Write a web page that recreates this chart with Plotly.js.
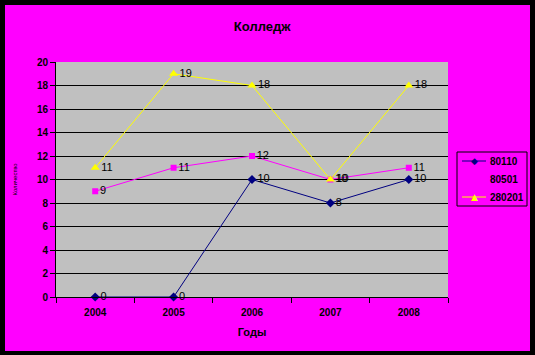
<!DOCTYPE html>
<html>
<head>
<meta charset="utf-8">
<script src="https://cdn.plot.ly/plotly-3.0.1.min.js"></script>
<style>
  html, body { margin:0; padding:0; background:#000; }
  #wrap { position:relative; width:535px; height:355px; }
  #chart { position:absolute; left:0; top:0; width:535px; height:355px; }
  #frame { position:absolute; left:0; top:0; width:535px; height:355px; box-sizing:border-box;
           border-style:solid; border-color:#000; border-width:5px 5px 4px 5px; pointer-events:none; }
</style>
</head>
<body>
<div id="wrap"><div id="chart"></div><div id="frame"></div></div>
<script>
const years = ["2004", "2005", "2006", "2007", "2008"];
const seriesNames = ["80110", "80501", "280201"];
const s80110 = [0, 0, 10, 8, 10];
const s80501 = [9, 11, 12, 10, 11];
const s280201 = [11, 19, 18, 10, 18];
const yTicks = [0, 2, 4, 6, 8, 10, 12, 14, 16, 18, 20];

const colors = ["#000080", "#FF00FF", "#FFFF00"];
const symbols = ["diamond", "square", "triangle-up"];
const glyphs = ["◆", "■", "▲"];
const sizes = [7, 6, 8];
const vals = [s80110, s80501, s280201];
const FONT = "Liberation Sans, Arial, sans-serif";

const traces = vals.map((v, i) => ({
  type: "scatter",
  mode: "lines+markers+text",
  name: seriesNames[i],
  x: years,
  y: v,
  text: v.map(String),
  textposition: "middle right",
  textfont: {family: FONT, size: 11, color: "#000"},
  line: {color: colors[i], width: 1},
  marker: {color: colors[i], symbol: symbols[i], size: sizes[i]},
  cliponaxis: false,
  showlegend: false
}));

// plot area geometry (pixels) used to place the hand-drawn legend
const M = {l: 56, r: 87, t: 62, b: 58};
const PW = 535 - M.l - M.r, PH = 355 - M.t - M.b;
const fx = px => (px - M.l) / PW;
const fy = py => (355 - M.b - py) / PH;

const shapes = [
  {type: "rect", xref: "paper", yref: "paper", x0: fx(457), x1: fx(527), y0: fy(152), y1: fy(206),
   line: {color: "#000", width: 1}, fillcolor: "rgba(0,0,0,0)"}
];
const annotations = [];
seriesNames.forEach((name, i) => {
  const py = 161 + i * 18;
  shapes.push({type: "line", xref: "paper", yref: "paper", x0: fx(462), x1: fx(486), y0: fy(py), y1: fy(py),
               line: {color: colors[i], width: 1}});
  annotations.push({xref: "paper", yref: "paper", x: fx(474), y: fy(py), text: glyphs[i], showarrow: false,
                    xanchor: "center", yanchor: "middle", font: {size: 9, color: colors[i], family: "DejaVu Sans"}});
  annotations.push({xref: "paper", yref: "paper", x: fx(488), y: fy(py), text: "<b>" + name + "</b>", showarrow: false,
                    xanchor: "left", yanchor: "middle", font: {size: 10, color: "#000", family: FONT}});
});

const layout = {
  width: 535, height: 355,
  margin: M,
  paper_bgcolor: "#FF00FF",
  plot_bgcolor: "#C0C0C0",
  font: {family: FONT, color: "#000"},
  title: {text: "<b>Колледж</b>", font: {size: 13, color: "#000"}, x: 0.49, xanchor: "center", y: 0.925, yanchor: "middle"},
  showlegend: false,
  shapes: shapes,
  annotations: annotations,
  xaxis: {
    type: "category",
    range: [-0.5, 4.5],
    showline: true, linecolor: "#000", linewidth: 1,
    ticks: "outside", tickson: "boundaries", ticklen: 5, tickcolor: "#000",
    ticklabelstandoff: 6,
    showgrid: false, zeroline: false,
    tickfont: {size: 10, weight: "bold"},
    title: {text: "<b>Годы</b>", font: {size: 11}, standoff: 11}
  },
  yaxis: {
    range: [0, 20],
    tickvals: yTicks,
    showline: true, linecolor: "#000", linewidth: 1,
    ticks: "outside", ticklen: 5, tickcolor: "#000",
    showgrid: true, gridcolor: "#000", gridwidth: 1,
    zeroline: false,
    tickfont: {size: 10, weight: "bold"},
    title: {text: "Количество", font: {size: 6}, standoff: 18}
  }
};

Plotly.newPlot("chart", traces, layout, {displayModeBar: false, staticPlot: true});
</script>
</body>
</html>
